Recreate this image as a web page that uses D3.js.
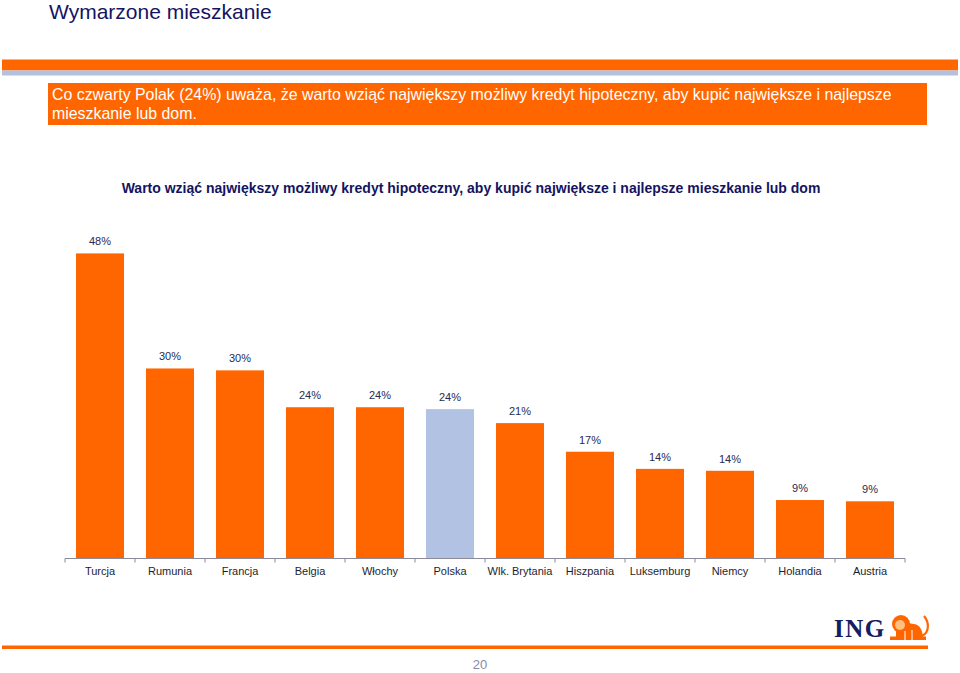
<!DOCTYPE html>
<html><head><meta charset="utf-8">
<script src="https://cdn.jsdelivr.net/npm/d3@7"></script>
<style>html,body{margin:0;padding:0;background:#fff;}svg{display:block;font-family:"Liberation Sans",Arial,sans-serif;}</style>
</head><body>
<svg id="c" width="960" height="673"></svg>
<script>
const categories = ["Turcja","Rumunia","Francja","Belgia","Włochy","Polska","Wlk. Brytania","Hiszpania","Luksemburg","Niemcy","Holandia","Austria"];
const values = [48.0, 29.9, 29.6, 23.8, 23.8, 23.5, 21.3, 16.8, 14.1, 13.8, 9.2, 9.0];
const valueLabels = ["48%","30%","30%","24%","24%","24%","21%","17%","14%","14%","9%","9%"];
const highlight = "Polska";
const pageTitle = "Wymarzone mieszkanie";
const boxLines = ["Co czwarty Polak (24%) uważa, że warto wziąć największy możliwy kredyt hipoteczny, aby kupić największe i najlepsze","mieszkanie lub dom."];
const chartTitle = "Warto wziąć największy możliwy kredyt hipoteczny, aby kupić największe i najlepsze mieszkanie lub dom";
const pageNumber = "20";

const svg = d3.select("#c");
const ORANGE = "#FF6600", BLUE = "#B2C2E2", NAVY = "#14145f";

// header
svg.append("text").attr("x",49).attr("y",19).attr("font-size",21).attr("fill",NAVY).text(pageTitle);
svg.append("rect").attr("x",2).attr("y",59.5).attr("width",956).attr("height",11).attr("fill",ORANGE);
svg.append("rect").attr("x",2).attr("y",70.5).attr("width",956).attr("height",5).attr("fill","#b4c0e2");
svg.append("rect").attr("x",48).attr("y",83).attr("width",879).attr("height",42).attr("fill",ORANGE);
svg.selectAll("text.box").data(boxLines).join("text").attr("class","box")
  .attr("x",52).attr("y",(d,i)=>100+i*19).attr("font-size",15.9).attr("fill","#fff").text(d=>d);

svg.append("text").attr("x",471).attr("y",192.5).attr("text-anchor","middle")
  .attr("font-size",14).attr("font-weight","bold").attr("fill",NAVY).text(chartTitle);

// chart
const x = d3.scaleBand().domain(categories).range([65,905]).paddingInner(0.314).paddingOuter(0.157);
const y = d3.scaleLinear().domain([0,50]).range([558.5,240.7]);

svg.selectAll("rect.bar").data(categories).join("rect").attr("class","bar")
  .attr("x",d=>x(d)).attr("width",x.bandwidth())
  .attr("y",(d,i)=>y(values[i])).attr("height",(d,i)=>y(0)-y(values[i]))
  .attr("fill",d=>d===highlight?BLUE:ORANGE);

svg.selectAll("text.val").data(categories).join("text").attr("class","val")
  .attr("x",d=>x(d)+x.bandwidth()/2).attr("y",(d,i)=>y(values[i])-8)
  .attr("text-anchor","middle").attr("font-size",11).attr("fill","#2a2a50")
  .text((d,i)=>valueLabels[i]);

// axis
const step = x.step();
const bounds = d3.range(categories.length+1).map(i=>65+i*step);
svg.append("line").attr("x1",65).attr("x2",905).attr("y1",558.5).attr("y2",558.5).attr("stroke","#8a8a9a").attr("stroke-width",1);
svg.selectAll("line.tk").data(bounds).join("line").attr("class","tk")
  .attr("x1",d=>d).attr("x2",d=>d).attr("y1",558.5).attr("y2",562.5).attr("stroke","#8a8a9a");
svg.selectAll("text.cat").data(categories).join("text").attr("class","cat")
  .attr("x",d=>x(d)+x.bandwidth()/2).attr("y",575).attr("text-anchor","middle")
  .attr("font-size",11).attr("fill","#1e1e30").text(d=>d);

// footer
svg.append("rect").attr("x",2).attr("y",645.5).attr("width",926).attr("height",3.5).attr("fill",ORANGE);
svg.append("text").attr("x",480).attr("y",669).attr("text-anchor","middle").attr("font-size",13).attr("fill","#8888aa").text(pageNumber);

// ING logo
svg.append("text").attr("x",834).attr("y",637).attr("font-family","Liberation Serif, serif").attr("font-weight","bold")
  .attr("font-size",25).attr("letter-spacing",1.5).attr("fill","#13205e").text("ING");
const lion = svg.append("g").attr("fill",ORANGE);
lion.append("path").attr("d","M896,640 L896,630 C898,624 906,622 914,624 C920,625 923,630 923,640 Z");
lion.append("circle").attr("cx",901).attr("cy",624).attr("r",9);
lion.append("circle").attr("cx",900).attr("cy",625).attr("r",5).attr("fill","#ffc080");
lion.append("path").attr("d","M922,636 C930,632 929,622 924,616").attr("fill","none").attr("stroke",ORANGE).attr("stroke-width",2.2);
lion.append("rect").attr("x",890).attr("y",636.5).attr("width",36).attr("height",3.5);
lion.append("path").attr("d","M905,640 L905,631 M912,640 L912,630").attr("stroke","#fff").attr("stroke-width",1);
</script>
</body></html>
